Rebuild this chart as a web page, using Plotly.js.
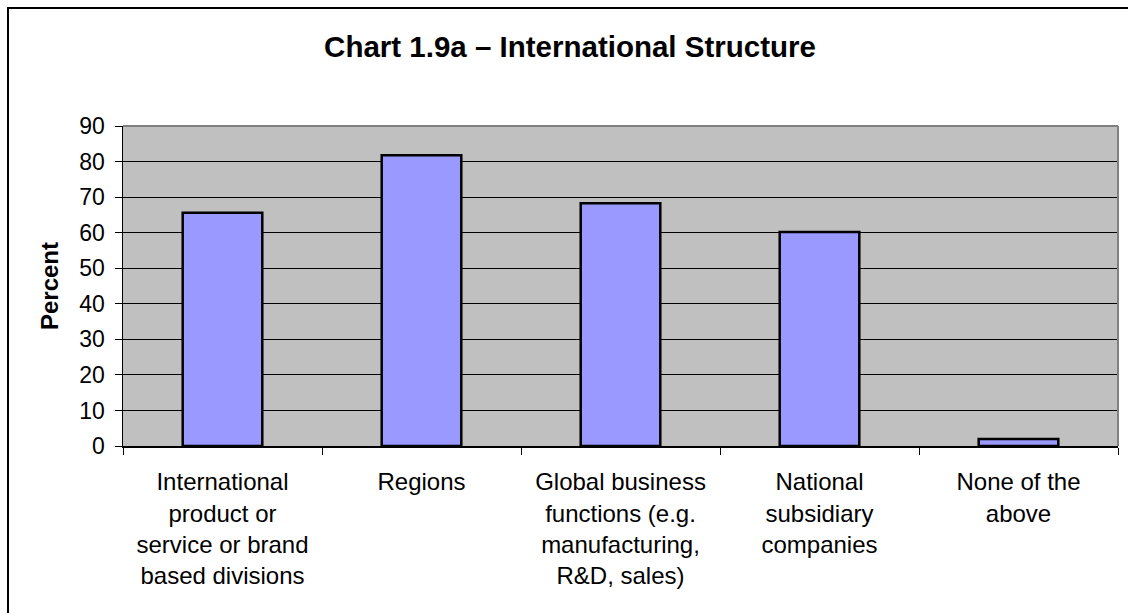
<!DOCTYPE html>
<html>
<head>
<meta charset="utf-8">
<script src="https://cdn.plot.ly/plotly-3.0.1.min.js"></script>
<style>
  html, body { margin: 0; padding: 0; background: #fff; overflow: hidden; width: 1128px; height: 613px; }
  #wrap { position: relative; width: 1128px; height: 613px; overflow: hidden; }
  #chart { width: 1128px; height: 613px; position: absolute; left: 0; top: 0; }
  #frame { position: absolute; left: 7px; top: 7px; width: 1140px; height: 620px;
           border-left: 2px solid #000; border-top: 2px solid #000; pointer-events: none; }
</style>
</head>
<body>
<div id="wrap">
<div id="chart"></div>
<div id="frame"></div>
</div>
<script>
const categories = [
  "International<br>product or<br>service or brand<br>based divisions",
  "Regions",
  "Global business<br>functions (e.g.<br>manufacturing,<br>R&D, sales)",
  "National<br>subsidiary<br>companies",
  "None of the<br>above"
];
const percentValues = [65.6, 81.8, 68.3, 60.2, 2.0];
const yTickValues = [0, 10, 20, 30, 40, 50, 60, 70, 80, 90];
const chartTitle = "Chart 1.9a – International Structure";
const yTitle = "Percent";

const FONT = "Arial, 'Liberation Sans', sans-serif";

const trace = {
  type: "bar",
  x: categories,
  y: percentValues,
  marker: { color: "#9999FF", line: { color: "#000000", width: 2.5 } },
  hoverinfo: "x+y"
};

const layout = {
  width: 1128,
  height: 613,
  margin: { l: 123, r: 10, t: 126, b: 167 },
  paper_bgcolor: "#ffffff",
  plot_bgcolor: "#C0C0C0",
  bargap: 0.6,
  showlegend: false,
  font: { family: FONT, color: "#000", size: 24 },
  title: {
    text: "<b>" + chartTitle + "</b>",
    font: { family: FONT, size: 29.5, color: "#000" },
    x: 570 / 1128, xanchor: "center", xref: "container",
    y: 1 - 47 / 613, yanchor: "middle", yref: "container"
  },
  xaxis: {
    type: "category",
    tickson: "boundaries",
    ticks: "outside",
    ticklen: 7,
    tickcolor: "#000",
    tickwidth: 1,
    showline: true,
    linecolor: "#000",
    linewidth: 1.5,
    showgrid: false,
    tickfont: { family: FONT, size: 24, color: "#000" },
    ticklabelstandoff: 14,
    fixedrange: true
  },
  yaxis: {
    range: [0, 90],
    tickvals: yTickValues,
    ticks: "outside",
    ticklen: 7,
    tickcolor: "#000",
    tickwidth: 1,
    showline: true,
    linecolor: "#000",
    linewidth: 1.5,
    showgrid: true,
    gridcolor: "#000",
    gridwidth: 1,
    zeroline: false,
    tickfont: { family: FONT, size: 23, color: "#000" },
    ticklabelstandoff: 5,
    title: { text: "<b>" + yTitle + "</b>", font: { family: FONT, size: 24, color: "#000" }, standoff: 14 },
    fixedrange: true
  },
  shapes: [
    { type: "line", xref: "paper", yref: "paper", x0: 0, x1: 1, y0: 1, y1: 1, line: { color: "#808080", width: 2 } },
    { type: "line", xref: "paper", yref: "paper", x0: 1, x1: 1, y0: 0, y1: 1, line: { color: "#808080", width: 2 } }
  ]
};

Plotly.newPlot("chart", [trace], layout, { displayModeBar: false, staticPlot: true });
</script>
</body>
</html>
